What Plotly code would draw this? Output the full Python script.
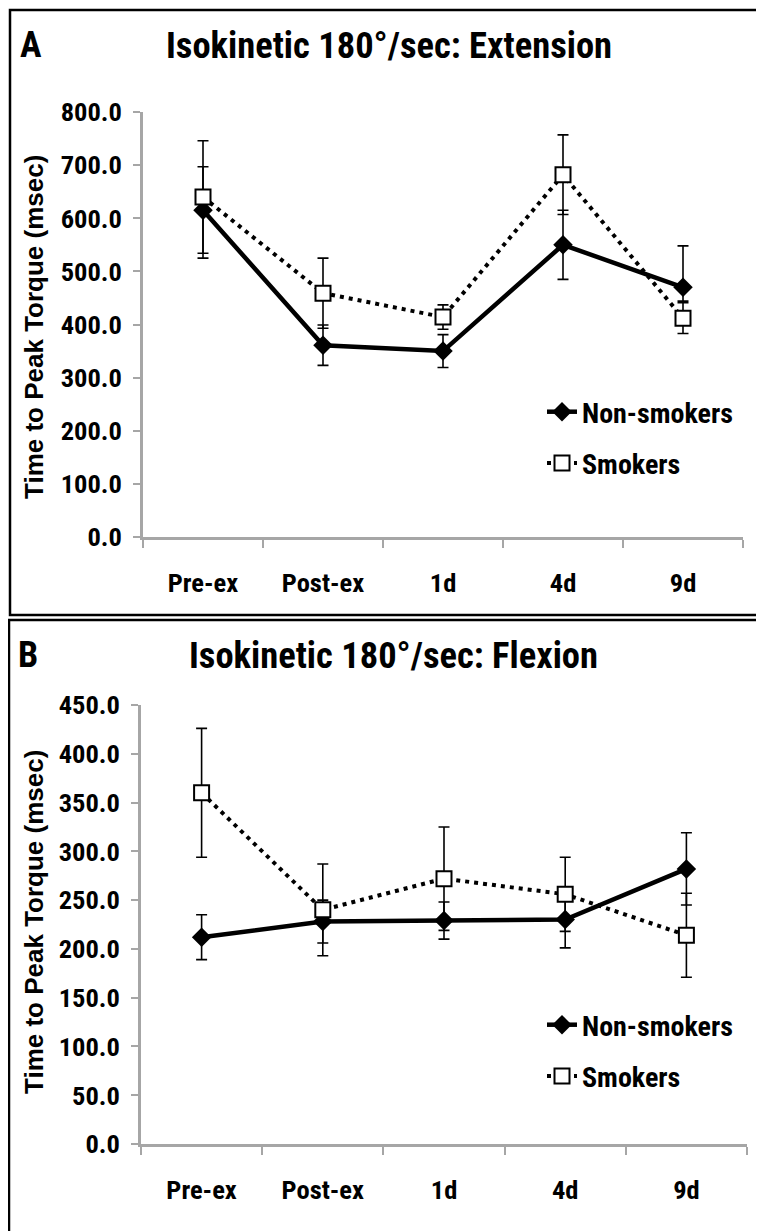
import plotly.graph_objects as go

# ---------------- data ----------------
categories = ["Pre-ex", "Post-ex", "1d", "4d", "9d"]

ext_non = [615, 361, 350, 550, 470]
ext_non_err_plus = [82, 38, 31, 65, 78]
ext_non_err_minus = [90, 38, 31, 65, 26]
ext_smk = [640, 459, 414, 682, 412]
ext_smk_err = [106, 66, 23, 75, 29]

flex_non = [212, 228, 229, 230, 282]
flex_non_err = [23, 22, 19, 29, 37]
flex_smk = [360, 240, 272, 256, 214]
flex_smk_err = [66, 47, 53, 38, 43]

ext_ticks = [0, 100, 200, 300, 400, 500, 600, 700, 800]
flex_ticks = [0, 50, 100, 150, 200, 250, 300, 350, 400, 450]

series_names = ["Non-smokers", "Smokers"]
panel_letters = ["A", "B"]
panel_titles = ["Isokinetic 180°/sec: Extension", "Isokinetic 180°/sec: Flexion"]
y_title = "Time to Peak Torque (msec)"

# ---------------- layout helpers ----------------
W, H = 764, 1231
OFF = 8  # page body margin
def px(x):
    return (x - OFF) / W
def py(y):
    return 1 - (y - OFF) / H

NARROW = "Roboto Condensed, Open Sans Condensed, Liberation Sans Narrow, sans-serif"
WIDE = "Liberation Sans, Arial, sans-serif"
GRAY = "#a6a6a6"

fig = go.Figure()

def add_panel(idx, non, non_plus, non_minus, smk, smk_plus, smk_minus):
    xa = "x" if idx == 0 else "x2"
    ya = "y" if idx == 0 else "y2"
    leg = "legend" if idx == 0 else "legend2"
    fig.add_trace(go.Scatter(
        x=categories, y=non, name=series_names[0], xaxis=xa, yaxis=ya, legend=leg,
        mode="lines+markers", legendgroup="n%d" % idx,
        line=dict(color="black", width=4.5),
        marker=dict(symbol="diamond", size=15, color="black"),
        error_y=dict(type="data", symmetric=False, array=non_plus, arrayminus=non_minus,
                     color="black", thickness=1.6, width=5.5),
    ))
    fig.add_trace(go.Scatter(
        x=categories, y=smk, name=series_names[1], xaxis=xa, yaxis=ya, legend=leg,
        mode="lines+markers", legendgroup="s%d" % idx,
        line=dict(color="black", width=4, dash="4px,5px"),
        marker=dict(symbol="square", size=15, color="white", line=dict(color="black", width=2)),
        error_y=dict(type="data", symmetric=False, array=smk_plus, arrayminus=smk_minus,
                     color="black", thickness=1.6, width=5.5),
    ))

add_panel(0, ext_non, ext_non_err_plus, ext_non_err_minus, ext_smk, ext_smk_err, ext_smk_err)
add_panel(1, flex_non, flex_non_err, flex_non_err, flex_smk, flex_smk_err, flex_smk_err)

xcommon = dict(type="category", tickson="boundaries", ticks="outside", ticklen=8,
               tickcolor=GRAY, tickwidth=2, showline=True, linecolor=GRAY, linewidth=2.5,
               showgrid=False, zeroline=False,
               tickfont=dict(family=NARROW, size=26.5, color="black", weight="bold"),
               ticklabelstandoff=20, range=[-0.5, 4.5])
ycommon = dict(ticks="outside", ticklen=7, tickcolor=GRAY, tickwidth=2,
               showline=True, linecolor=GRAY, linewidth=2.5, showgrid=False, zeroline=False,
               tickfont=dict(family=NARROW, size=26.5, color="black", weight="bold"),
               ticklabelstandoff=6)

legfont = dict(family=NARROW, size=28, color="black", weight="bold")
layout = dict(
    width=W, height=H, margin=dict(l=0, r=0, t=0, b=0, autoexpand=False),
    paper_bgcolor="white", plot_bgcolor="white", showlegend=True,
    xaxis=dict(domain=[px(143), px(743)], anchor="y", **xcommon),
    yaxis=dict(domain=[py(537), py(112)], anchor="x", range=[0, 800],
               tickmode="array", tickvals=ext_ticks,
               ticktext=["%.1f" % v for v in ext_ticks], **ycommon),
    xaxis2=dict(domain=[px(141), px(747)], anchor="y2", **xcommon),
    yaxis2=dict(domain=[py(1144), py(705)], anchor="x2", range=[0, 450],
                tickmode="array", tickvals=flex_ticks,
                ticktext=["%.1f" % v for v in flex_ticks], **ycommon),
    legend=dict(x=px(542), y=py(387), xanchor="left", yanchor="top",
                bgcolor="rgba(0,0,0,0)", tracegroupgap=12, itemwidth=30, font=legfont),
    legend2=dict(x=px(542), y=py(1000), xanchor="left", yanchor="top",
                 bgcolor="rgba(0,0,0,0)", tracegroupgap=12, itemwidth=30, font=legfont),
)
fig.update_layout(**layout)

annotations = []
panel_y = [45, 655]
title_x = [389, 393]
letter_x = [31, 28]
yt_center = [327, 922]
for i in range(2):
    annotations.append(dict(text=panel_letters[i], x=px(letter_x[i]), y=py(panel_y[i]),
                            xref="paper", yref="paper", showarrow=False,
                            xanchor="center", yanchor="middle",
                            font=dict(family=NARROW, size=36, color="black", weight="bold")))
    annotations.append(dict(text=panel_titles[i], x=px(title_x[i]), y=py(panel_y[i]),
                            xref="paper", yref="paper", showarrow=False,
                            xanchor="center", yanchor="middle",
                            font=dict(family=NARROW, size=36.5, color="black", weight="bold")))
    annotations.append(dict(text=y_title, x=px(34), y=py(yt_center[i]), textangle=-90,
                            xref="paper", yref="paper", showarrow=False,
                            xanchor="center", yanchor="middle",
                            font=dict(family=WIDE, size=26, color="black", weight="bold")))
fig.update_layout(annotations=annotations)

shapes = [
    dict(type="rect", xref="paper", yref="paper", x0=px(10), x1=px(762), y0=py(615), y1=py(10),
         line=dict(color="black", width=2.5)),
    dict(type="rect", xref="paper", yref="paper", x0=px(9), x1=px(762), y0=py(1245), y1=py(620),
         line=dict(color="black", width=2.5)),
]
fig.update_layout(shapes=shapes)

fig.write_html("out.html")
